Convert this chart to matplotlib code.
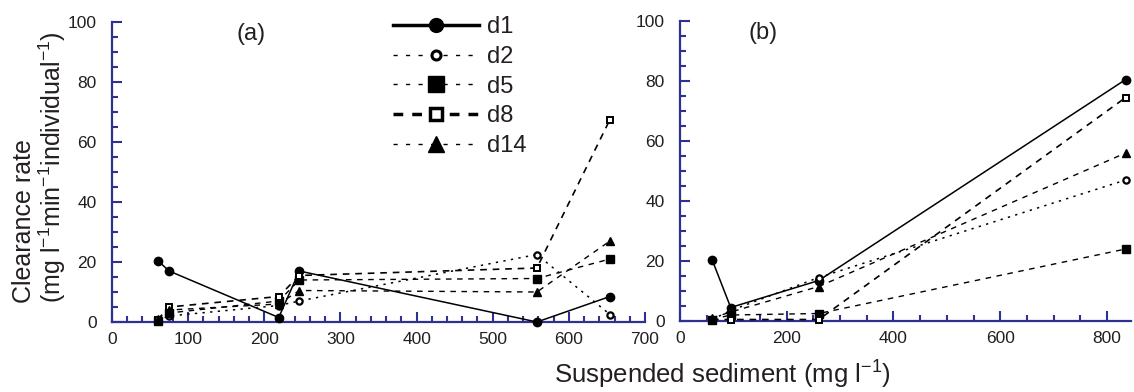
import matplotlib
matplotlib.use("Agg")
import matplotlib.pyplot as plt
from matplotlib.lines import Line2D
from matplotlib.ticker import MultipleLocator

plt.rcParams['font.family'] = ['Liberation Sans', 'DejaVu Sans']
plt.rcParams['mathtext.fontset'] = 'custom'
plt.rcParams['mathtext.rm'] = 'Liberation Sans'
plt.rcParams['mathtext.it'] = 'Liberation Sans:italic'
plt.rcParams['mathtext.bf'] = 'Liberation Sans:bold'
plt.rcParams['mathtext.default'] = 'regular'

# ---- data ----
series = ["d1", "d2", "d5", "d8", "d14"]

xa = [60, 75, 219, 246, 558, 654]
ya_d1 = [20.5, 17.0, 1.5, 17.0, 0.0, 8.5]
ya_d2 = [0.5, 2.0, 5.5, 7.0, 22.5, 2.5]
ya_d5 = [0.5, 3.0, 7.0, 14.0, 14.5, 21.0]
ya_d8 = [0.8, 5.0, 8.5, 15.5, 18.0, 67.5]
ya_d14 = [1.0, 4.0, 6.0, 10.5, 10.0, 27.0]

xb = [60, 95, 260, 835]
yb_d1 = [20.5, 4.5, 13.5, 80.5]
yb_d2 = [0.5, 3.5, 14.5, 47.0]
yb_d5 = [0.5, 2.0, 2.5, 24.0]
yb_d8 = [0.5, 0.5, 0.5, 74.5]
yb_d14 = [1.0, 3.0, 11.5, 56.0]

xticks_a = [0, 100, 200, 300, 400, 500, 600, 700]
xticks_b = [0, 200, 400, 600, 800]
yticks = [0, 20, 40, 60, 80, 100]

# ---- styles ----
BLUE = '#2e3192'
TXT = '#231f20'
styles = {
    "d1": dict(ls='-', lw=1.1, marker='o', ms=6, mfc='k', mec='k'),
    "d2": dict(ls=(0, (1.5, 3.5)), lw=1.1, marker='o', ms=4.5, mfc='white', mec='k', mew=1.6),
    "d5": dict(ls=(0, (4, 4)), lw=1.0, marker='s', ms=6, mfc='k', mec='k'),
    "d8": dict(ls=(0, (4, 3.5)), lw=1.2, marker='s', ms=5, mfc='white', mec='k', mew=1.4),
    "d14": dict(ls=(0, (4, 4)), lw=1.0, marker='^', ms=6, mfc='k', mec='k'),
}
leg_styles = {
    "d1": dict(ls='-', lw=2.5, marker='o', ms=10, mfc='k', mec='k'),
    "d2": dict(ls=(0, (3, 6)), lw=1.0, marker='o', ms=6.5, mfc='white', mec='k', mew=2.2),
    "d5": dict(ls=(0, (3, 6)), lw=1.0, marker='s', ms=12, mfc='k', mec='k'),
    "d8": dict(ls=(0, (2.8, 2.6)), lw=2.5, marker='s', ms=8, mfc='white', mec='k', mew=2.5),
    "d14": dict(ls=(0, (3, 6)), lw=1.0, marker='^', ms=12, mfc='k', mec='k'),
}

fig = plt.figure(figsize=(11.34, 3.92), dpi=100)
W, H = 1134, 392
ax_a = fig.add_axes([112 / W, (H - 322) / H, 533 / W, 300 / H])
ax_b = fig.add_axes([680 / W, (H - 321) / H, 451 / W, 300 / H])

data_a = dict(d1=ya_d1, d2=ya_d2, d5=ya_d5, d8=ya_d8, d14=ya_d14)
data_b = dict(d1=yb_d1, d2=yb_d2, d5=yb_d5, d8=yb_d8, d14=yb_d14)

for name in series:
    ax_a.plot(xa, data_a[name], color='k', clip_on=False, zorder=3, **styles[name])
    ax_b.plot(xb, data_b[name], color='k', clip_on=False, zorder=3, **styles[name])

for ax in (ax_a, ax_b):
    ax.set_ylim(0, 100)
    ax.set_yticks(yticks)
    ax.yaxis.set_minor_locator(MultipleLocator(5))
    for s in ('top', 'right'):
        ax.spines[s].set_visible(False)
    for s in ('left', 'bottom'):
        ax.spines[s].set_color(BLUE)
        ax.spines[s].set_linewidth(1.6)
    ax.tick_params(which='both', direction='in', color=BLUE, width=1.5, labelsize=12.5, labelcolor=TXT)
    ax.tick_params(which='major', length=7)
    ax.tick_params(which='minor', length=4.5)
    ax.tick_params(axis='y', pad=11)
    ax.tick_params(axis='x', pad=7)

ax_a.set_xlim(0, 700)
ax_a.set_xticks(xticks_a)
ax_a.xaxis.set_minor_locator(MultipleLocator(20))
ax_b.set_xlim(0, 845)
ax_b.set_xticks(xticks_b)
ax_b.xaxis.set_minor_locator(MultipleLocator(50))

ax_a.text(183, 96, '(a)', fontsize=17, color=TXT, ha='center', va='center', transform=ax_a.transData)
ax_b.text(156, 96, '(b)', fontsize=17, color=TXT, ha='center', va='center', transform=ax_b.transData)

fig.text(40 / W, 1 - 167 / H, 'Clearance rate\n(mg l$^{-1}$min$^{-1}$individual$^{-1}$)', fontsize=18,
         color=TXT, linespacing=1.05, rotation=90, ha='center', va='center', multialignment='left')
fig.text(722 / W, 1 - 375 / H, 'Suspended sediment (mg l$^{-1}$)', fontsize=18.5,
         color=TXT, ha='center', va='center')

handles = [Line2D([0], [0], color='k', **leg_styles[n]) for n in series]
ax_a.legend(handles, series, loc='upper left', bbox_to_anchor=(0.527, 1.02), frameon=False,
            fontsize=17, handlelength=3.65, handletextpad=0.35, labelspacing=0.33,
            borderpad=0, borderaxespad=0, numpoints=1, labelcolor=TXT)

fig.savefig('out.png', dpi=100)
